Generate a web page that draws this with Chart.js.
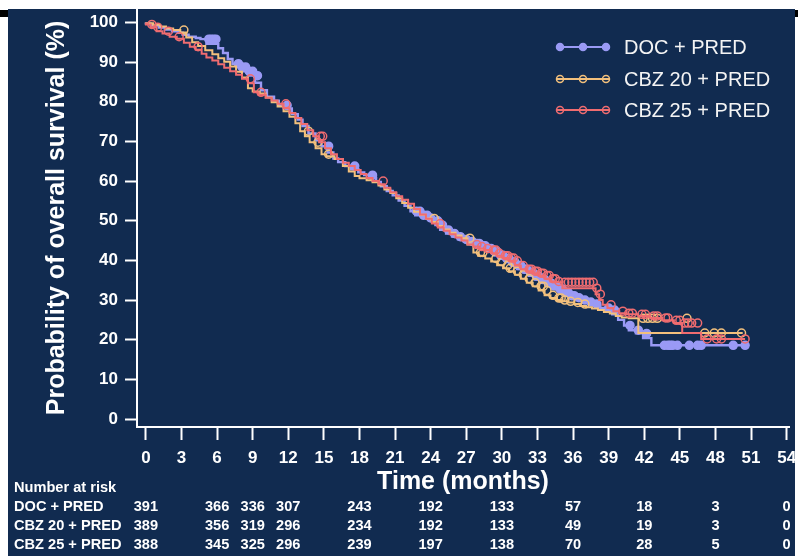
<!DOCTYPE html>
<html><head><meta charset="utf-8">
<script src="https://cdn.jsdelivr.net/npm/chart.js@4/dist/chart.umd.min.js"></script>
<style>html,body{margin:0;padding:0;background:#fff;}canvas{display:block;}</style>
</head><body>
<canvas id="c" width="798" height="556"></canvas>
<script>
// ---------------- data ----------------
const seriesNames = ['DOC + PRED', 'CBZ 20 + PRED', 'CBZ 25 + PRED'];
const xTicks = [0,3,6,9,12,15,18,21,24,27,30,33,36,39,42,45,48,51,54];
const yTicks = [0,10,20,30,40,50,60,70,80,90,100];

const docTime = [0,0.4,1.1,1.6,2.2,2.7,3.1,3.6,4.2,4.6,5.1,6.1,6.5,6.9,7.3,7.7,8.0,8.6,9.2,9.7,10.2,10.8,11.2,11.8,12.3,12.8,13.2,13.7,14.3,14.8,15.3,15.8,16.2,16.8,17.3,17.9,18.4,18.9,19.4,19.8,20.3,20.8,21.3,21.8,22.3,22.7,23.3,23.9,24.4,24.8,25.3,25.8,26.3,26.8,27.3,27.8,28.3,28.8,29.3,29.8,30.3,30.8,31.3,31.8,32.3,32.8,33.3,33.8,34.3,34.8,35.3,35.8,36.3,36.8,37.3,37.8,38.3,38.8,39.3,39.8,40.3,40.7,41.3,41.9,42.6,43.5,50.8];
const docSurv = [100,99.7,99.2,98.7,98.2,97.8,97.4,96.9,96.4,96.1,95.8,94.6,93.5,92.3,90.8,89.6,88.8,87.7,86.6,84.8,82.9,81.3,80.3,79.1,78.3,76.9,75.5,73.9,72.0,70.3,68.8,67.2,65.7,64.8,63.8,63.0,62.2,61.5,60.8,59.8,58.7,57.5,56.4,55.1,53.8,52.4,51.4,50.7,50.0,48.9,47.7,46.8,46.0,45.3,44.8,44.3,43.7,43.0,42.2,41.3,40.5,39.6,38.7,37.8,37.0,36.1,35.2,34.4,33.6,32.8,31.9,31.1,30.6,30.0,29.5,29.0,28.6,28.0,27.5,26.4,25.0,23.6,22.4,21.6,20.4,18.6,18.6];
const docCensorTime = [5.3,5.5,5.7,5.9,7.8,8.1,8.4,8.7,9.0,9.4,11.9,15.4,17.6,19.1,22.8,23.1,23.4,23.7,24.0,24.6,25.0,25.5,26.0,26.5,27.0,27.5,27.9,28.1,28.4,28.6,28.9,29.1,29.4,29.6,29.9,30.1,30.4,30.6,30.9,31.1,31.4,31.6,31.9,32.1,32.4,32.6,32.9,33.1,33.4,33.6,33.9,34.1,34.4,34.6,34.9,35.1,35.4,35.6,35.9,36.1,36.5,37.0,37.5,38.0,39.0,39.5,40.8,41.5,42.2,43.7,44.0,44.2,44.4,44.8,45.8,46.5,46.8,49.5,50.5];
const docCensorSurv = [95.8,95.8,95.8,95.8,89.6,88.8,88.8,87.7,87.7,86.6,79.1,68.8,63.8,61.5,52.4,52.4,51.4,51.4,50.7,50.0,48.9,47.7,46.8,46.0,45.3,44.8,44.3,44.3,43.7,43.7,43.0,43.0,42.2,42.2,41.3,41.3,40.5,40.5,39.6,39.6,38.7,38.7,37.8,37.8,37.0,37.0,36.1,36.1,35.2,35.2,34.4,34.4,33.6,33.6,32.8,32.8,31.9,31.9,31.1,31.1,30.6,30.0,29.5,29.0,28.0,27.5,23.6,22.4,21.6,18.6,18.6,18.6,18.6,18.6,18.6,18.6,18.6,18.6,18.6];

const cbz20Time = [0,0.6,1.2,1.7,2.3,2.9,3.4,3.9,4.4,5.0,5.6,6.1,6.6,7.1,7.6,8.1,8.6,9.0,9.6,10.1,10.6,11.1,11.6,12.1,12.6,13.0,13.4,13.8,14.3,14.8,15.2,15.9,16.6,17.1,17.6,18.0,18.6,19.1,19.6,20.1,20.6,21.1,21.6,22.1,22.6,23.1,23.6,24.1,24.6,25.1,25.6,26.1,26.6,27.1,27.6,28.0,28.6,29.1,29.6,30.1,30.6,31.1,31.6,32.1,32.6,33.1,33.6,34.1,34.6,35.1,35.6,36.1,36.6,37.1,37.6,38.1,38.6,39.1,39.6,40.1,40.7,41.5,46.6,50.3];
const cbz20Surv = [100,99.8,99.4,99.0,98.5,98.1,97.5,96.2,95.0,94.1,93.0,92.0,91.0,90.1,88.9,87.6,86.1,83.4,82.6,82.1,81.1,79.9,78.8,77.6,76.2,74.6,72.6,71.3,69.8,68.3,66.8,66.3,65.6,63.8,62.4,61.3,60.7,60.2,59.7,58.9,57.9,57.0,55.7,54.5,53.3,52.3,51.5,50.6,49.7,48.7,47.8,47.0,46.3,45.6,44.0,42.0,41.2,40.5,39.7,38.8,38.0,37.3,36.4,35.4,34.4,33.5,32.4,31.2,30.5,30.0,29.7,29.4,29.0,28.5,28.2,27.9,27.5,27.0,26.6,26.0,25.6,25.4,21.7,21.7];
const cbz20CensorTime = [3.2,13.7,14.5,15.4,24.3,27.3,28.2,28.4,29.5,30.0,30.5,30.7,31.3,31.8,32.3,32.8,33.3,33.5,33.8,34.3,34.8,35.0,35.3,35.8,36.4,37.0,41.9,42.3,42.7,43.1,45.6,47.1,47.9,48.5,50.2];
const cbz20CensorSurv = [98.1,72.6,69.8,66.8,50.6,45.6,42.0,42.0,40.5,39.7,38.8,38.0,37.3,36.4,35.4,34.4,33.5,33.5,32.4,31.2,30.5,30.5,30.0,29.7,29.4,29.0,25.4,25.4,25.4,25.4,25.4,21.7,21.7,21.7,21.7];

const cbz25Time = [0,0.4,0.9,1.4,2.0,2.6,3.2,3.7,4.2,4.7,5.1,5.6,6.1,6.6,7.1,7.6,8.1,8.6,9.1,9.5,10.1,10.6,11.1,11.6,12.1,12.6,13.1,13.6,14.1,14.6,15.1,15.6,16.1,16.6,17.1,17.6,18.1,18.6,19.1,19.6,20.1,20.6,21.1,21.6,22.1,22.6,23.1,23.6,24.1,24.6,25.1,25.6,26.1,26.6,27.1,27.6,28.1,28.6,29.1,29.6,30.1,30.6,31.1,31.6,32.1,32.6,33.1,33.6,34.1,34.6,35.1,37.9,38.2,38.5,38.9,39.4,39.9,40.5,41.5,42.5,43.5,44.5,45.2,46.8,47.1,50.5];
const cbz25Surv = [100,99.5,98.8,97.8,97.2,96.4,95.9,94.9,93.9,93.1,92.1,91.2,90.4,89.5,88.6,87.7,86.8,85.8,84.7,82.4,81.8,81.0,80.3,79.5,78.4,77.2,75.9,74.4,72.8,71.3,69.8,68.3,66.8,65.6,64.6,63.8,62.8,61.8,60.8,60.0,59.2,58.3,57.2,56.2,55.3,54.3,53.0,51.6,50.5,49.3,48.3,47.5,46.6,45.8,45.0,44.0,43.5,43.0,42.6,41.8,41.2,40.6,39.9,38.7,37.8,37.3,36.8,36.2,35.4,34.7,34.5,33.0,31.5,30.0,28.8,28.0,27.2,26.7,26.4,26.0,25.5,24.9,24.2,21.7,20.2,20.2];
const cbz25CensorTime = [0.5,1.0,1.9,2.8,4.4,8.8,9.7,11.8,14.7,14.9,20.0,24.8,27.9,28.3,28.8,29.3,29.5,29.8,30.3,30.5,30.8,31.0,31.3,31.8,32.3,32.5,32.8,33.0,33.3,33.5,33.8,34.0,34.3,34.5,34.8,35.3,35.6,35.9,36.2,36.5,36.8,37.1,37.4,37.7,38.0,38.3,39.2,40.2,40.7,41.0,41.8,42.1,42.8,43.1,43.8,44.0,44.7,45.0,45.4,45.7,46.0,46.5,47.3,48.1,48.5,50.5];
const cbz25CensorSurv = [99.5,98.8,97.8,96.4,93.9,85.8,82.4,79.5,71.3,71.3,60.0,49.3,44.0,43.5,43.0,42.6,42.6,41.8,41.2,41.2,40.6,40.6,39.9,38.7,37.8,37.8,37.3,37.3,36.8,36.8,36.2,36.2,35.4,35.4,34.7,34.5,34.5,34.5,34.5,34.5,34.5,34.5,34.5,34.5,33.0,31.5,28.8,27.2,26.7,26.7,26.4,26.4,26.0,26.0,25.5,25.5,24.9,24.9,24.2,24.2,24.2,24.2,20.2,20.2,20.2,20.2];

const riskTimes = [0,6,9,12,18,24,30,36,42,48,54];
const riskDoc   = [391,366,336,307,243,192,133,57,18,3,0];
const riskCbz20 = [389,356,319,296,234,192,133,49,19,3,0];
const riskCbz25 = [388,345,325,296,239,197,138,70,28,5,0];

// ---------------- styles ----------------
const NAVY = '#112b50';
const WHITE = '#ffffff';
const COL = ['#9a9af5', '#f3c07c', '#f06c70'];
const FONT = "'Liberation Sans', Arial, sans-serif";
Chart.defaults.font.family = FONT;

const pts = (t, s) => t.map((v, i) => ({x: v, y: s[i]}));

function lineDs(i, t, s, order) {
  return {label: seriesNames[i], data: pts(t, s), borderColor: COL[i], borderWidth: i === 0 ? 2.4 : 2,
    stepped: 'after', pointRadius: 0, fill: false, order: order};
}
function censorDs(i, t, s, filled, order) {
  return {label: seriesNames[i] + ' censored', data: pts(t, s), showLine: false,
    pointStyle: 'circle', pointRadius: 4, pointBorderWidth: 1.5,
    pointBorderColor: COL[i], pointBackgroundColor: filled ? COL[i] : 'rgba(0,0,0,0)',
    borderColor: COL[i], order: order};
}

const bgPlugin = {
  id: 'bg',
  beforeDraw(chart) {
    const ctx = chart.ctx;
    ctx.save();
    ctx.fillStyle = '#ffffff';
    ctx.fillRect(0, 0, chart.width, chart.height);
    ctx.fillStyle = NAVY;
    ctx.fillRect(8, 9, 787, 547);
    ctx.fillStyle = '#000000';
    ctx.fillRect(0, 10, 8, 7);
    ctx.fillRect(795, 10, 3, 7);
    ctx.restore();
  }
};

const overlayPlugin = {
  id: 'overlay',
  afterDraw(chart) {
    const ctx = chart.ctx;
    const xs = chart.scales.x;
    ctx.save();
    // legend
    const ly = [47, 79, 110];
    for (let i = 0; i < 3; i++) {
      ctx.strokeStyle = COL[i];
      ctx.lineWidth = 2;
      ctx.beginPath(); ctx.moveTo(557, ly[i]); ctx.lineTo(609, ly[i]); ctx.stroke();
      [560, 583, 606].forEach(mx => {
        ctx.beginPath(); ctx.arc(mx, ly[i], 3.5, 0, Math.PI * 2);
        if (i === 0) { ctx.fillStyle = COL[i]; ctx.fill(); }
        ctx.lineWidth = 1.5; ctx.stroke();
      });
      ctx.fillStyle = '#f4f4f4';
      ctx.font = '20px ' + FONT;
      ctx.textAlign = 'left'; ctx.textBaseline = 'middle';
      ctx.fillText(seriesNames[i], 624, ly[i] + 1);
    }
    // number at risk table
    ctx.fillStyle = WHITE;
    ctx.font = 'bold 14.6px ' + FONT;
    ctx.textBaseline = 'middle';
    ctx.textAlign = 'left';
    ctx.fillText('Number at risk', 14, 488);
    const rowsY = [507, 526, 545];
    const rows = [riskDoc, riskCbz20, riskCbz25];
    for (let r = 0; r < 3; r++) {
      ctx.textAlign = 'left';
      ctx.fillText(seriesNames[r], 14, rowsY[r]);
      ctx.textAlign = 'center';
      rows[r].forEach((v, k) => ctx.fillText(String(v), xs.getPixelForValue(riskTimes[k]), rowsY[r]));
    }
    ctx.restore();
  }
};

new Chart(document.getElementById('c'), {
  type: 'line',
  data: {
    datasets: [
      lineDs(2, cbz25Time, cbz25Surv, 2),
      censorDs(2, cbz25CensorTime, cbz25CensorSurv, false, 1),
      lineDs(1, cbz20Time, cbz20Surv, 4),
      censorDs(1, cbz20CensorTime, cbz20CensorSurv, false, 3),
      lineDs(0, docTime, docSurv, 6),
      censorDs(0, docCensorTime, docCensorSurv, true, 5)
    ]
  },
  options: {
    responsive: false,
    animation: false,
    devicePixelRatio: 1,
    layout: {padding: {top: 9, right: 9, left: 0, bottom: 0}},
    plugins: {legend: {display: false}, tooltip: {enabled: false}},
    scales: {
      x: {
        type: 'linear', min: -0.75, max: 54.2,
        afterBuildTicks: s => { s.ticks = xTicks.map(v => ({value: v})); },
        afterFit: s => { s.height = 129; s.paddingLeft = 0; s.paddingRight = 0; },
        ticks: {color: WHITE, font: {size: 17, weight: 'bold'}, padding: 8, maxRotation: 0, autoSkip: false},
        grid: {drawOnChartArea: false, drawTicks: true, tickLength: 13, tickWidth: 2, tickColor: WHITE},
        border: {display: true, color: WHITE, width: 2},
        title: {display: true, text: 'Time (months)', color: WHITE,
          font: {size: 25, weight: 'bold'}, padding: {top: 0, bottom: 59}}
      },
      y: {
        type: 'linear', min: -2, max: 103.4,
        afterBuildTicks: s => { s.ticks = yTicks.map(v => ({value: v})); },
        afterFit: s => { s.width = 137; s.paddingTop = 0; s.paddingBottom = 0; },
        ticks: {color: WHITE, font: {size: 17, weight: 'bold'}, padding: 7},
        grid: {drawOnChartArea: false, drawTicks: true, tickLength: 12, tickWidth: 2, tickColor: WHITE},
        border: {display: true, color: WHITE, width: 2},
        title: {display: true, text: 'Probability of overall survival (%)', color: WHITE,
          font: {size: 25, weight: 'bold'}, padding: {top: 42, bottom: 0}}
      }
    }
  },
  plugins: [bgPlugin, overlayPlugin]
});
</script>
</body></html>
